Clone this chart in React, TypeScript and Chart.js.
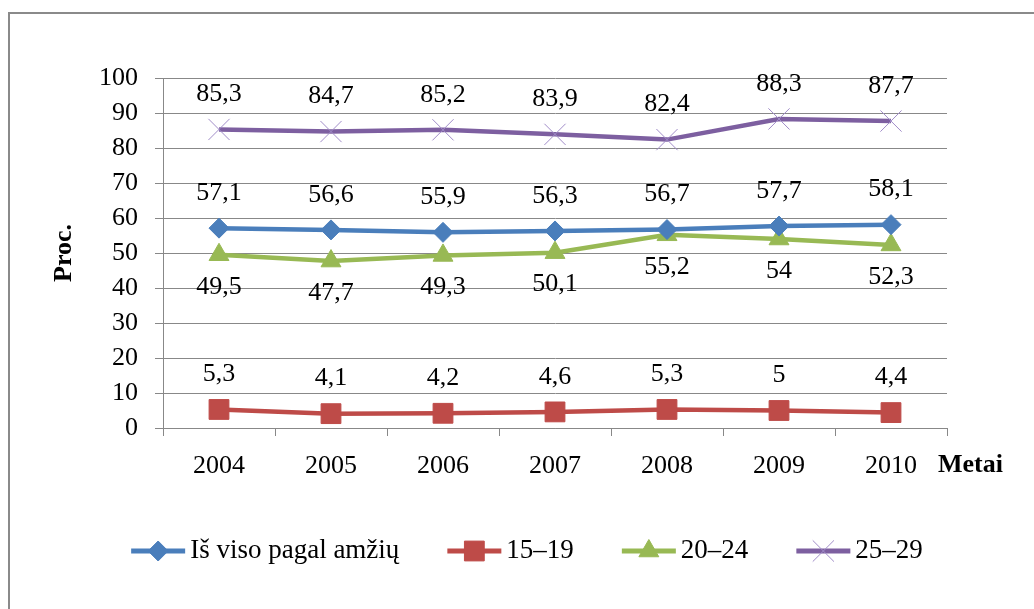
import React, { useEffect, useRef } from 'react';
import { Chart, registerables } from 'chart.js';
import { drawPoint } from 'chart.js/helpers';

Chart.register(...registerables);

const years = ['2004', '2005', '2006', '2007', '2008', '2009', '2010'];
const totalAll = [57.1, 56.6, 55.9, 56.3, 56.7, 57.7, 58.1];
const age1519 = [5.3, 4.1, 4.2, 4.6, 5.3, 5, 4.4];
const age2024 = [49.5, 47.7, 49.3, 50.1, 55.2, 54, 52.3];
const age2529 = [85.3, 84.7, 85.2, 83.9, 82.4, 88.3, 87.7];
const seriesNames = ['Iš viso pagal amžių', '15–19', '20–24', '25–29'];
const yMin = 0;
const yMax = 100;
const yStep = 10;
const yTitle = 'Proc.';
const xTitle = 'Metai';

const FONT = '"Liberation Serif", "Times New Roman", serif';
const colors = ['#4A7EBB', '#BE4B48', '#98B954', '#7D5FA0'];
const pointColors = ['#4A7EBB', '#BE4B48', '#98B954', '#A08CC8'];
const pointStyles = ['rectRot', 'rect', 'triangle', 'crossRot'];
const pointRadii = [10, 14, 11.5, 15];
const labelOffsets = [-35, -35, 32, -35];

const fmt = (v: number) => String(v).replace('.', ',');

const extras = {
  id: 'extras',
  beforeDraw(chart: any) {
    const ctx = chart.ctx;
    ctx.save();
    ctx.fillStyle = '#8a8a8a';
    ctx.fillRect(8, 12, 2, chart.height);
    ctx.fillRect(8, 12, chart.width, 2);
    ctx.restore();
  },
  afterDatasetsDraw(chart: any) {
    const ctx = chart.ctx;
    ctx.save();
    ctx.font = `26px ${FONT}`;
    ctx.fillStyle = '#000';
    ctx.textAlign = 'center';
    ctx.textBaseline = 'middle';
    chart.data.datasets.forEach((ds: any, i: number) => {
      const meta = chart.getDatasetMeta(i);
      meta.data.forEach((pt: any, j: number) => {
        ctx.fillText(fmt(ds.data[j]), pt.x, pt.y + labelOffsets[i]);
      });
    });
    ctx.restore();
  },
  afterDraw(chart: any) {
    const ctx = chart.ctx;
    const area = chart.chartArea;
    ctx.save();
    // x axis title
    ctx.font = `bold 26px ${FONT}`;
    ctx.fillStyle = '#000';
    ctx.textAlign = 'left';
    ctx.textBaseline = 'middle';
    ctx.fillText(xTitle, area.right - 9, 465);

    // legend
    ctx.font = `27px ${FONT}`;
    const lineLen = 54;
    const gapText = 5;
    const gapItem = 48;
    const widths = seriesNames.map((n) => ctx.measureText(n).width);
    const total = widths.reduce((a, w) => a + lineLen + gapText + w, 0) + gapItem * (seriesNames.length - 1);
    let x = 527 - total / 2;
    const y = 551;
    seriesNames.forEach((name, i) => {
      ctx.strokeStyle = colors[i];
      ctx.lineWidth = 5;
      ctx.beginPath();
      ctx.moveTo(x, y);
      ctx.lineTo(x + lineLen, y);
      ctx.stroke();
      ctx.fillStyle = pointColors[i];
      ctx.strokeStyle = pointColors[i];
      ctx.lineWidth = 1;
      drawPoint(ctx, { pointStyle: pointStyles[i], radius: pointRadii[i], rotation: 0, borderWidth: 1 } as any, x + lineLen / 2, y);
      ctx.fillStyle = '#000';
      ctx.textAlign = 'left';
      ctx.textBaseline = 'middle';
      ctx.fillText(name, x + lineLen + gapText, y);
      x += lineLen + gapText + widths[i] + gapItem;
    });
    ctx.restore();
  },
};

export default function App() {
  const ref = useRef<HTMLCanvasElement | null>(null);
  useEffect(() => {
    if (!ref.current) return;
    const series = [totalAll, age1519, age2024, age2529];
    const chart = new Chart(ref.current, {
      type: 'line',
      data: {
        labels: years,
        datasets: series.map((d, i) => ({
          label: seriesNames[i],
          data: d,
          borderColor: colors[i],
          backgroundColor: pointColors[i],
          borderWidth: 4.5,
          tension: 0,
          pointStyle: pointStyles[i] as any,
          pointRadius: pointRadii[i],
          pointHoverRadius: pointRadii[i],
          pointBackgroundColor: pointColors[i],
          pointBorderColor: pointColors[i],
          pointBorderWidth: 1,
          fill: false,
        })),
      },
      options: {
        responsive: false,
        animation: false,
        devicePixelRatio: 1,
        layout: { padding: { left: 0, right: 87, top: 78, bottom: 0 } },
        plugins: { legend: { display: false }, tooltip: { enabled: false } },
        scales: {
          x: {
            type: 'category',
            offset: true,
            grid: { display: true, drawOnChartArea: false, drawTicks: true, tickLength: 8, color: '#888', offset: true },
            border: { display: true, color: '#888', width: 1 },
            ticks: { color: '#000', font: { family: FONT, size: 26 }, padding: 15, maxRotation: 0, autoSkip: false },
            afterFit: (s: any) => { s.height = 181; },
          },
          y: {
            min: yMin,
            max: yMax,
            grid: { color: '#888', lineWidth: 1, tickLength: 8, drawTicks: true },
            border: { display: true, color: '#888', width: 1 },
            ticks: { stepSize: yStep, color: '#000', font: { family: FONT, size: 26 }, padding: 17 },
            title: { display: true, text: yTitle, color: '#000', font: { family: FONT, size: 26, weight: 'bold' }, padding: { top: 49, bottom: 0 } },
            afterFit: (s: any) => { s.width = 163; },
          },
        },
      },
      plugins: [extras],
    });
    return () => chart.destroy();
  }, []);
  return (
    <div style={{ position: 'absolute', left: 0, top: 0, width: 1034, height: 609, background: '#fff' }}>
      <canvas ref={ref} width={1034} height={609} style={{ display: 'block', width: 1034, height: 609 }} />
    </div>
  );
}
